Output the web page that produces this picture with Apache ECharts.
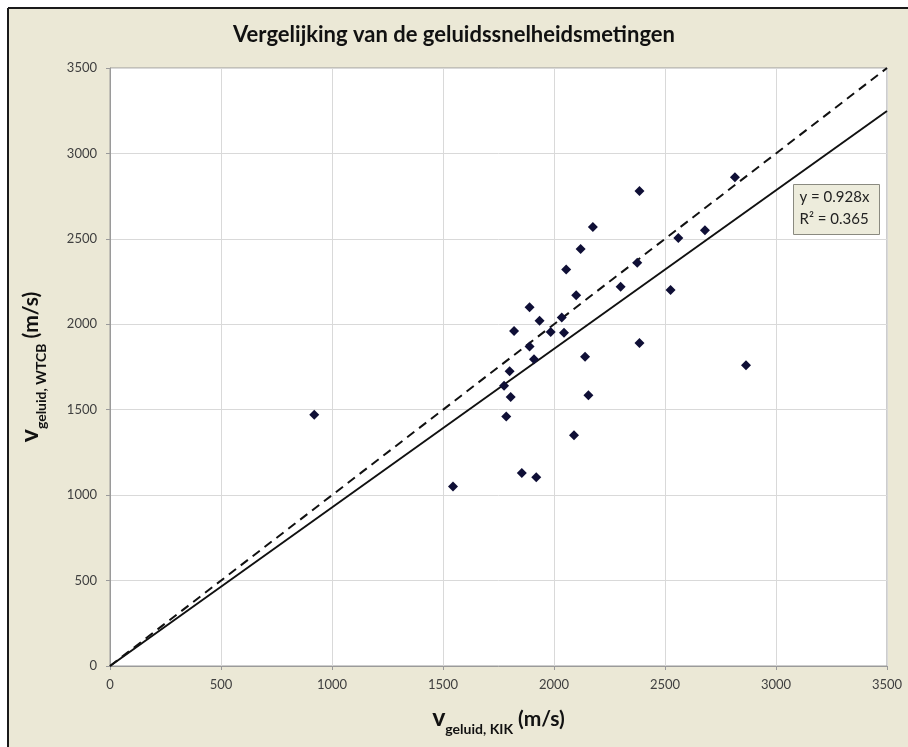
<!DOCTYPE html>
<html>
<head>
<meta charset="utf-8">
<script src="https://cdn.jsdelivr.net/npm/echarts@6/dist/echarts.min.js"></script>
<style>
  html, body { margin: 0; padding: 0; background: #ffffff; }
  #chart { width: 908px; height: 747px; }
</style>
</head>
<body>
<div id="chart"></div>
<script>
// Measured sound speeds (m/s): KIK method on x, WTCB method on y
const kik  = [920, 1545, 1855, 1920, 2090, 1785, 1805, 2155, 1775, 1800, 2865, 2140, 1910, 2385, 1890,
              2045, 1985, 1820, 2035, 1935, 1890, 2100, 2525, 2300, 2375, 2680, 2560, 2055, 2120, 2175,
              2815, 2385];
const wtcb = [1470, 1050, 1130, 1105, 1350, 1460, 1575, 1585, 1640, 1725, 1760, 1810, 1795, 1890, 1870,
              1950, 1955, 1960, 2040, 2020, 2100, 2170, 2200, 2220, 2360, 2550, 2505, 2320, 2440, 2570,
              2860, 2780];

// Fitted trend through origin and the 1:1 reference line
const slope = 0.928;
const rSquared = 0.365;
const lineX = [0, 3500];

const ticks = [0, 500, 1000, 1500, 2000, 2500, 3000, 3500];
const titleText = 'Vergelijking van de geluidssnelheidsmetingen';

const points = kik.map((v, i) => [v, wtcb[i]]);
const fitLine = lineX.map(x => [x, slope * x]);
const unityLine = lineX.map(x => [x, x]);

const font = 'Lato, "Open Sans", sans-serif';
const beige = '#ebe8d6';

function axisNameRich() {
  return {
    v: { fontFamily: font, fontSize: 25, fontWeight: 'bold', color: '#111', verticalAlign: 'bottom', lineHeight: 26 },
    s: { fontFamily: font, fontSize: 14, fontWeight: 'bold', color: '#111', verticalAlign: 'bottom', lineHeight: 15, padding: [0, 0, -6, 0] },
    u: { fontFamily: font, fontSize: 21, fontWeight: 'bold', color: '#111', verticalAlign: 'bottom', lineHeight: 26 }
  };
}

const tickLabel = v => ticks.includes(v) ? String(v) : '';

const chart = echarts.init(document.getElementById('chart'), null, { renderer: 'canvas' });

chart.setOption({
  backgroundColor: '#ffffff',
  animation: false,
  graphic: [
    { type: 'rect', z: -10, shape: { x: 9, y: 9, width: 899, height: 738 }, style: { fill: beige } },
    { type: 'line', z: -9, shape: { x1: 8, y1: 8, x2: 908, y2: 8 }, style: { stroke: '#1a1a1a', lineWidth: 2 } },
    { type: 'line', z: -9, shape: { x1: 8, y1: 8, x2: 8, y2: 747 }, style: { stroke: '#1a1a1a', lineWidth: 2 } },
    {
      type: 'group', left: 793, top: 184, z: 100,
      children: [
        { type: 'rect', shape: { x: 0, y: 0, width: 86, height: 50 }, style: { fill: '#edecdc', stroke: '#8a8a80', lineWidth: 1 } },
        { type: 'text', style: { x: 6, y: 5, text: 'y = ' + slope + 'x', font: '15px ' + font, fill: '#222' } },
        { type: 'text', style: { x: 6, y: 27, text: 'R² = ' + rSquared, font: '15px ' + font, fill: '#222' } }
      ]
    }
  ],
  title: {
    text: titleText,
    left: 'center',
    top: 19,
    textStyle: { fontFamily: font, fontSize: 22, fontWeight: 'bold', color: '#111' }
  },
  grid: { left: 110, right: 21, top: 68, bottom: 81, backgroundColor: '#ffffff', show: true, borderColor: '#9a9a9a', borderWidth: 1 },
  xAxis: {
    type: 'value', min: 0, max: 3500, interval: 500,
    axisLine: { show: true, onZero: false, lineStyle: { color: '#9a9a9a' } },
    axisTick: { show: true, length: 4, lineStyle: { color: '#9a9a9a' } },
    splitLine: { show: true, lineStyle: { color: '#d9d9d9' } },
    axisLabel: { fontFamily: font, fontSize: 13, color: '#404040', margin: 12, formatter: tickLabel },
    name: '{v|v}{s|geluid, KIK}{u| (m/s)}',
    nameLocation: 'middle', nameGap: 38,
    nameTextStyle: { rich: axisNameRich() }
  },
  yAxis: {
    type: 'value', min: 0, max: 3500, interval: 500,
    axisLine: { show: true, onZero: false, lineStyle: { color: '#9a9a9a' } },
    axisTick: { show: true, length: 4, lineStyle: { color: '#9a9a9a' } },
    splitLine: { show: true, lineStyle: { color: '#d9d9d9' } },
    axisLabel: { fontFamily: font, fontSize: 13, color: '#404040', margin: 13, formatter: tickLabel },
    name: '{v|v}{s|geluid, WTCB}{u| (m/s)}',
    nameLocation: 'middle', nameRotate: 90, nameGap: 68,
    nameTextStyle: { rich: axisNameRich() }
  },
  series: [
    {
      type: 'line', data: unityLine, showSymbol: false, silent: true,
      lineStyle: { color: '#111', width: 2, type: [9, 6] }, z: 3
    },
    {
      type: 'line', data: fitLine, showSymbol: false, silent: true,
      lineStyle: { color: '#111', width: 2, type: 'solid' }, z: 3
    },
    {
      type: 'scatter', data: points, symbol: 'diamond', symbolSize: 10,
      itemStyle: { color: '#0f0f36', opacity: 1 }, z: 5
    }
  ]
});
</script>
</body>
</html>
